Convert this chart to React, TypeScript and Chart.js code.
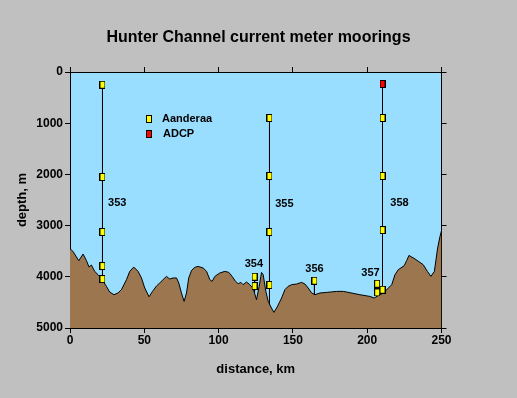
import React, { useEffect, useRef } from "react";
import { Chart, registerables } from "chart.js";

Chart.register(...registerables);

// Bathymetry profile (distance km, depth m)
const bathyKm = [
  0, 2.0, 5.9, 8.8, 11.0, 12.8, 14.4, 16.6, 18.9, 21.6, 24.5, 26.7, 29.6, 32.3, 34.6,
  38.0, 40.2, 42.9, 45.8, 48.1, 50.3, 53.2, 55.5, 58.2, 60.4, 62.6, 64.9, 67.1, 69.4,
  71.7, 73.2, 75.0, 76.8, 78.4, 79.9, 81.8, 84.0, 86.2, 89.6, 91.9, 94.1, 95.6, 97.5,
  100.8, 104.2, 106.9, 109.1, 111.4, 113.2, 115.0, 116.5, 118.8, 121.0, 123.3, 125.5,
  127.3, 128.9, 130.0, 131.8, 133.4, 135.2, 137.2, 139.4, 142.4, 144.6, 146.8, 149.1,
  152.5, 155.8, 158.1, 160.3, 162.6, 164.8, 168.2, 172.7, 179.4, 183.9, 188.4, 195.1,
  201.8, 204.7, 207.4, 210.0, 212.0, 216.5, 218.7, 220.9, 224.9, 226.6, 228.1, 232.2,
  237.7, 240.5, 242.9, 245.2, 247.4, 249.0, 250,
];
const bathyDepth = [
  3451, 3504, 3686, 3555, 3680, 3809, 3770, 3894, 3959, 4057, 4187, 4297, 4350, 4316, 4252,
  4057, 3894, 3809, 3894, 4023, 4219, 4390, 4285, 4180, 4120, 4057, 3992, 4043, 4023,
  4023, 4121, 4316, 4480, 4316, 4023, 3875, 3816, 3797, 3828, 3894, 4057, 4090, 3992,
  3926, 3894, 3914, 3992, 4090, 4135, 4109, 4154, 4102, 4154, 4230, 4447,
  4187, 3914, 3959, 4285, 4480, 4590, 4695, 4590, 4414, 4252, 4187, 4154,
  4141, 4109, 4141, 4219, 4316, 4350, 4316, 4305, 4285, 4285, 4310, 4350,
  4383, 4414, 4369, 4330, 4285, 4154, 3959, 3861, 3783, 3680, 3582, 3652,
  3764, 3894, 3992, 3894, 3437, 3210, 3100,
];

// Moorings
const mooringNames = ["353", "354", "355", "356", "357", "358"];
const mooringKm = [21.87, 124.2, 134.25, 164.5, 206.7, 210.3];
const mooringTop = [248, 3998, 898, 4076, 4135, 234];
const mooringBottom = [4100, 4300, 4550, 4380, 4420, 4360];
const labelKm = [31.8, 123.7, 144.3, 164.5, 202.2, 221.7];
const labelDepth = [2553, 3744, 2572, 3848, 3926, 2553];

// Instruments
const instKm = [
  21.87, 21.87, 21.87, 21.87, 21.87,
  124.2, 124.2,
  134.25, 134.25, 134.25, 134.25,
  164.5,
  206.7, 206.7,
  210.3, 210.3, 210.3, 210.3, 210.3,
];
const instDepth = [
  248, 2050, 3125, 3790, 4043,
  3998, 4180,
  898, 2031, 3125, 4160,
  4076,
  4135, 4305,
  234, 898, 2031, 3086, 4252,
];
const instType = [
  "Aanderaa", "Aanderaa", "Aanderaa", "Aanderaa", "Aanderaa",
  "Aanderaa", "Aanderaa",
  "Aanderaa", "Aanderaa", "Aanderaa", "Aanderaa",
  "Aanderaa",
  "Aanderaa", "Aanderaa",
  "ADCP", "Aanderaa", "Aanderaa", "Aanderaa", "Aanderaa",
];
const legendTypes = ["Aanderaa", "ADCP"];
const typeColors: Record<string, string> = { Aanderaa: "#FFFF00", ADCP: "#FF0000" };

const xTicksMax = 250;
const yTicksMax = 5000;

const FONT = "'Liberation Sans', Arial, sans-serif";

function makeMarker(fill: string) {
  const c = document.createElement("canvas");
  c.width = 6;
  c.height = 8;
  const g = c.getContext("2d")!;
  g.fillStyle = "#000";
  g.fillRect(0, 0, 6, 8);
  g.fillStyle = fill;
  g.fillRect(1, 1, 4, 6);
  return c;
}

export default function App() {
  const ref = useRef<HTMLCanvasElement>(null);

  useEffect(() => {
    const markers: Record<string, HTMLCanvasElement> = {
      Aanderaa: makeMarker(typeColors.Aanderaa),
      ADCP: makeMarker(typeColors.ADCP),
    };

    const bgPlugin = {
      id: "bg",
      beforeDraw(chart: any) {
        const { ctx, chartArea } = chart;
        ctx.save();
        ctx.fillStyle = "#C0C0C0";
        ctx.fillRect(0, 0, chart.width, chart.height);
        ctx.fillStyle = "#99DDFF";
        ctx.fillRect(chartArea.left, chartArea.top, chartArea.right - chartArea.left, chartArea.bottom - chartArea.top);
        ctx.restore();
      },
    };

    const annotPlugin = {
      id: "annot",
      afterDatasetsDraw(chart: any) {
        const { ctx, chartArea, scales } = chart;
        ctx.save();
        ctx.fillStyle = "#000";
        ctx.font = `bold 11px ${FONT}`;
        ctx.textAlign = "center";
        ctx.textBaseline = "middle";
        mooringNames.forEach((n, i) => {
          ctx.fillText(n, scales.x.getPixelForValue(labelKm[i]), scales.y.getPixelForValue(labelDepth[i]));
        });
        // legend
        ctx.textAlign = "left";
        legendTypes.forEach((t, i) => {
          const lx = chartArea.left + 79;
          const ly = chartArea.top + 47 + i * 15;
          ctx.drawImage(markers[t], Math.round(lx - 3), Math.round(ly - 4));
          ctx.fillStyle = "#000";
          ctx.fillText(t, lx + 13 + i, ly);
        });
        ctx.restore();
      },
    };

    const datasets: any[] = [];
    datasets.push({
      type: "scatter",
      label: "instruments",
      data: instKm.map((x, i) => ({ x, y: instDepth[i] })),
      pointStyle: instType.map((t) => markers[t]),
      showLine: false,
      order: 0,
    });
    datasets.push({
      type: "line",
      label: "bathymetry",
      data: bathyKm.map((x, i) => ({ x, y: bathyDepth[i] })),
      borderColor: "#000",
      borderWidth: 1,
      backgroundColor: "#9B764F",
      fill: { value: yTicksMax },
      pointRadius: 0,
      tension: 0,
      order: 1,
    });
    mooringNames.forEach((n, i) => {
      datasets.push({
        type: "line",
        label: "mooring " + n,
        data: [
          { x: mooringKm[i], y: mooringTop[i] },
          { x: mooringKm[i], y: mooringBottom[i] },
        ],
        borderColor: "#000",
        borderWidth: 1,
        pointRadius: 0,
        fill: false,
        order: 2,
      });
    });

    const tickFont = { family: FONT, size: 12, weight: "bold" as const };
    const titleFont = { family: FONT, size: 13, weight: "bold" as const, lineHeight: 1 };

    const chart = new Chart(ref.current!, {
      type: "line",
      data: { datasets },
      plugins: [bgPlugin, annotPlugin],
      options: {
        responsive: false,
        animation: false,
        layout: { padding: 0 },
        plugins: {
          legend: { display: false },
          tooltip: { enabled: false },
          title: {
            display: true,
            text: "Hunter Channel current meter moorings",
            color: "#000",
            font: { family: FONT, size: 16, weight: "bold", lineHeight: 1 },
            padding: { top: 30, bottom: 21 },
          },
        },
        scales: {
          x: {
            type: "linear",
            position: "bottom",
            min: 0,
            max: xTicksMax,
            ticks: { stepSize: 50, color: "#000", font: tickFont, padding: 0, maxRotation: 0 },
            grid: { drawOnChartArea: false, tickLength: 5, color: "#000" },
            border: { color: "#000", width: 1 },
            title: { display: true, text: "distance, km", color: "#000", font: titleFont, padding: { top: 0, bottom: 22.5 } },
            afterFit: (s: any) => { s.height = 70; },
          },
          xTop: {
            type: "linear",
            position: "top",
            min: 0,
            max: xTicksMax,
            ticks: { stepSize: 50, display: false },
            grid: { drawOnChartArea: false, tickLength: 5, color: "#000" },
            border: { color: "#000", width: 1 },
            afterFit: (s: any) => { s.height = 5; },
          },
          y: {
            type: "linear",
            position: "left",
            reverse: true,
            min: 0,
            max: yTicksMax,
            ticks: { stepSize: 1000, color: "#000", font: tickFont, padding: 2, callback: (v: any) => String(v) },
            grid: { drawOnChartArea: false, tickLength: 5, color: "#000" },
            border: { color: "#000", width: 1 },
            title: { display: true, text: "depth, m", color: "#000", font: titleFont, padding: { top: 15.5, bottom: 0 } },
            afterFit: (s: any) => { s.width = 70; },
          },
          yRight: {
            type: "linear",
            position: "right",
            reverse: true,
            min: 0,
            max: yTicksMax,
            ticks: { stepSize: 1000, display: false },
            grid: { drawOnChartArea: false, tickLength: 5, color: "#000" },
            border: { color: "#000", width: 1 },
            afterFit: (s: any) => { s.width = 75.5; },
          },
        },
      } as any,
    });
    return () => chart.destroy();
  }, []);

  return (
    <div style={{ position: "fixed", left: 0, top: 0, width: 517, height: 398, background: "#C0C0C0" }}>
      <canvas ref={ref} width={517} height={398} style={{ display: "block" }} />
    </div>
  );
}
